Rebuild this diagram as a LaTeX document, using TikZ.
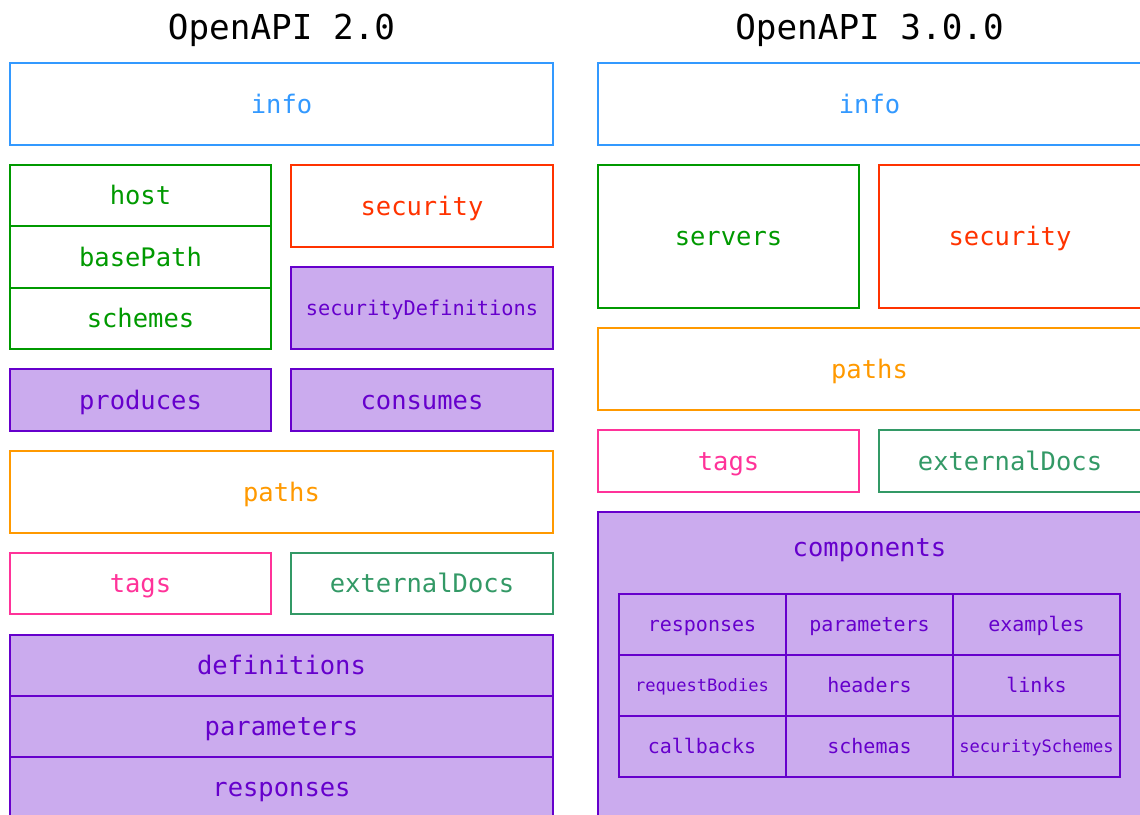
\documentclass[tikz,border=0pt]{standalone}
\usepackage{fontspec}
\newfontfamily\djm{DejaVu Sans Mono}
\definecolor{cblue}{HTML}{3399FF}
\definecolor{cgreen}{HTML}{009900}
\definecolor{cred}{HTML}{FF3300}
\definecolor{cpurple}{HTML}{6600CC}
\definecolor{cfill}{HTML}{CBABEE}
\definecolor{corange}{HTML}{FF9900}
\definecolor{cpink}{HTML}{FF3399}
\definecolor{cteal}{HTML}{339966}
\tikzset{
  fbig/.style={font=\djm\fontsize{25.5}{30}\selectfont, text height=18.4pt, text depth=0pt},
  fmid/.style={font=\djm\fontsize{20}{24}\selectfont, text height=14.4pt, text depth=0pt},
  fsec/.style={font=\djm\fontsize{20.3}{24}\selectfont, text height=14.6pt, text depth=0pt},
  fsmall/.style={font=\djm\fontsize{17.1}{21}\selectfont, text height=12.3pt, text depth=0pt},
  bx/.style={draw=#1, text=#1, line width=2pt, inner sep=0pt, fbig},
  pbx/.style={draw=cpurple, fill=cfill, text=cpurple, line width=2pt, inner sep=0pt, fbig},
  cell/.style={draw=cpurple, text=cpurple, line width=2pt, inner sep=0pt, fmid, minimum width=167pt, minimum height=61pt},
  ttl/.style={font=\djm\fontsize{34.3}{40}\selectfont, anchor=base},
}
\begin{document}
\begin{tikzpicture}[x=1pt,y=-1pt]
\useasboundingbox (0,0) rectangle (1140,814);
% titles
\node[ttl] (t2) at (281.5,39.5) {OpenAPI 2.0};
\node[ttl] (t3) at (869.5,39.5) {OpenAPI 3.0.0};
% ---- OpenAPI 2.0 ----
\node[bx=cblue, minimum width=543pt, minimum height=82pt] (info2) at (281.5,104) {info};
\node[bx=cgreen, minimum width=261pt, minimum height=61pt] (host) at (140.5,195.5) {host};
\node[bx=cgreen, minimum width=261pt, minimum height=62pt] (basepath) at (140.5,257) {basePath};
\node[bx=cgreen, minimum width=261pt, minimum height=61pt] (schemes) at (140.5,318.5) {schemes};
\node[bx=cred, minimum width=262pt, minimum height=82pt] (security2) at (422,206) {security};
\node[pbx, fsec, minimum width=262pt, minimum height=82pt] (secdefs) at (422,308) {securityDefinitions};
\node[pbx, minimum width=261pt, minimum height=62pt] (produces) at (140.5,400) {produces};
\node[pbx, minimum width=262pt, minimum height=62pt] (consumes) at (422,400) {consumes};
\node[bx=corange, minimum width=543pt, minimum height=82pt] (paths2) at (281.5,492) {paths};
\node[bx=cpink, minimum width=261pt, minimum height=61pt] (tags2) at (140.5,583.5) {tags};
\node[bx=cteal, minimum width=262pt, minimum height=61pt] (ext2) at (422,583.5) {externalDocs};
\node[pbx, minimum width=543pt, minimum height=61pt] (definitions) at (281.5,665.5) {definitions};
\node[pbx, minimum width=543pt, minimum height=61pt] (parameters2) at (281.5,726.5) {parameters};
\node[pbx, minimum width=543pt, minimum height=61pt] (responses2) at (281.5,787.5) {responses};
% ---- OpenAPI 3.0.0 ----
\node[bx=cblue, minimum width=543pt, minimum height=82pt] (info3) at (869.5,104) {info};
\node[bx=cgreen, minimum width=261pt, minimum height=143pt] (servers) at (728.5,236.5) {servers};
\node[bx=cred, minimum width=262pt, minimum height=143pt] (security3) at (1010,236.5) {security};
\node[bx=corange, minimum width=543pt, minimum height=82pt] (paths3) at (869.5,369) {paths};
\node[bx=cpink, minimum width=261pt, minimum height=62pt] (tags3) at (728.5,461) {tags};
\node[bx=cteal, minimum width=262pt, minimum height=62pt] (ext3) at (1010,461) {externalDocs};
\node[pbx, minimum width=543pt, minimum height=330pt] (components) at (869.5,677) {};
\node[text=cpurple, fbig, inner sep=0pt] (complabel) at (869.5,547.5) {components};
\node[cell] (c11) at (702,624.5) {responses};
\node[cell] (c12) at (869.5,624.5) {parameters};
\node[cell] (c13) at (1036.5,624.5) {examples};
\node[cell, fsmall] (c21) at (702,685.5) {requestBodies};
\node[cell] (c22) at (869.5,685.5) {headers};
\node[cell] (c23) at (1036.5,685.5) {links};
\node[cell] (c31) at (702,746.5) {callbacks};
\node[cell] (c32) at (869.5,746.5) {schemas};
\node[cell, fsmall] (c33) at (1036.5,746.5) {securitySchemes};
\end{tikzpicture}
\end{document}
